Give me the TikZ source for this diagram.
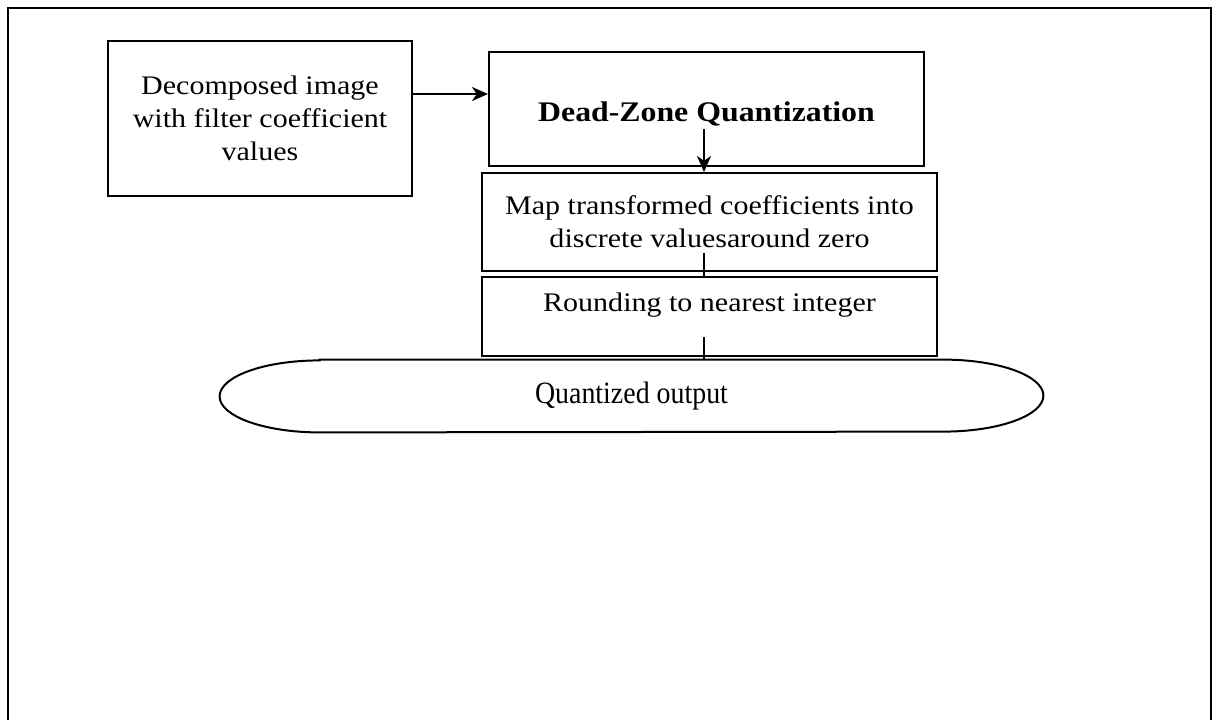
\documentclass[tikz,border=0pt]{standalone}
\usepackage{fontspec}
\setmainfont{Liberation Serif}
\newfontfamily\widefont{Liberation Serif}[FakeStretch=1.12]
\newfontfamily\narrowfont{Liberation Serif}[FakeStretch=0.9]
\usetikzlibrary{arrows.meta,calc}

\tikzset{
  stepbox/.style={draw, line width=1pt, align=center, inner sep=2pt,
    font=\widefont\fontsize{13.4}{16.5}\selectfont},
  arr/.style={line width=1pt, -{Stealth[length=8pt,width=7pt,inset=2.4pt]}},
  link/.style={line width=1pt},
}

\begin{document}
\begin{tikzpicture}[x=0.5pt, y=-0.5pt]
  \useasboundingbox (0,0) rectangle (1212,720);
  % page frame (open at the bottom)
  \draw[line width=1.2pt] (8,720) -- (8,8) -- (1211,8) -- (1211,720);

  \node[stepbox, minimum width=152pt, minimum height=77.5pt]
    (input) at (260,118.5) {Decomposed image\\with filter coefficient\\values};

  \node[stepbox, minimum width=217.5pt, minimum height=57pt,
        font=\widefont\fontsize{14.2}{17}\selectfont\bfseries,
        text height=15.5pt, text depth=3pt]
    (dzq) at (706.5,109) {Dead-Zone Quantization};

  \node[stepbox, minimum width=227.5pt, minimum height=49pt]
    (map) at (709.5,222) {Map transformed coefficients into\\discrete valuesaround zero};

  \node[stepbox, minimum width=227.5pt, minimum height=39.5pt,
        text height=9.5pt, text depth=14.3pt]
    (round) at (709.5,316.5) {Rounding to nearest integer};

  \node[minimum width=411.5pt, minimum height=36pt, inner sep=0pt,
        font=\narrowfont\fontsize{15.5}{18}\selectfont]
    (out) at (631.5,396) {Quantized output};
  \draw[line width=1pt]
    ([xshift=50pt]out.north west) -- ([xshift=-50pt]out.north east)
    arc[start angle=90, end angle=-90, x radius=50pt, y radius=18pt]
    -- ([xshift=50pt]out.south west)
    arc[start angle=270, end angle=90, x radius=50pt, y radius=18pt]
    -- cycle;

  % vertical spine of the flow
  \coordinate (spine) at (704,0);

  \draw[arr] ([yshift=12.25pt]input.east) coordinate (a1) -- (a1 -| dzq.west);
  \draw[arr] ([yshift=19pt]dzq.south -| spine) -- (map.north -| spine);
  \draw[link] ([yshift=9.5pt]map.south -| spine) -- (round.north -| spine);
  \draw[link] ([yshift=10pt]round.south -| spine) -- (out.north -| spine);
\end{tikzpicture}
\end{document}
